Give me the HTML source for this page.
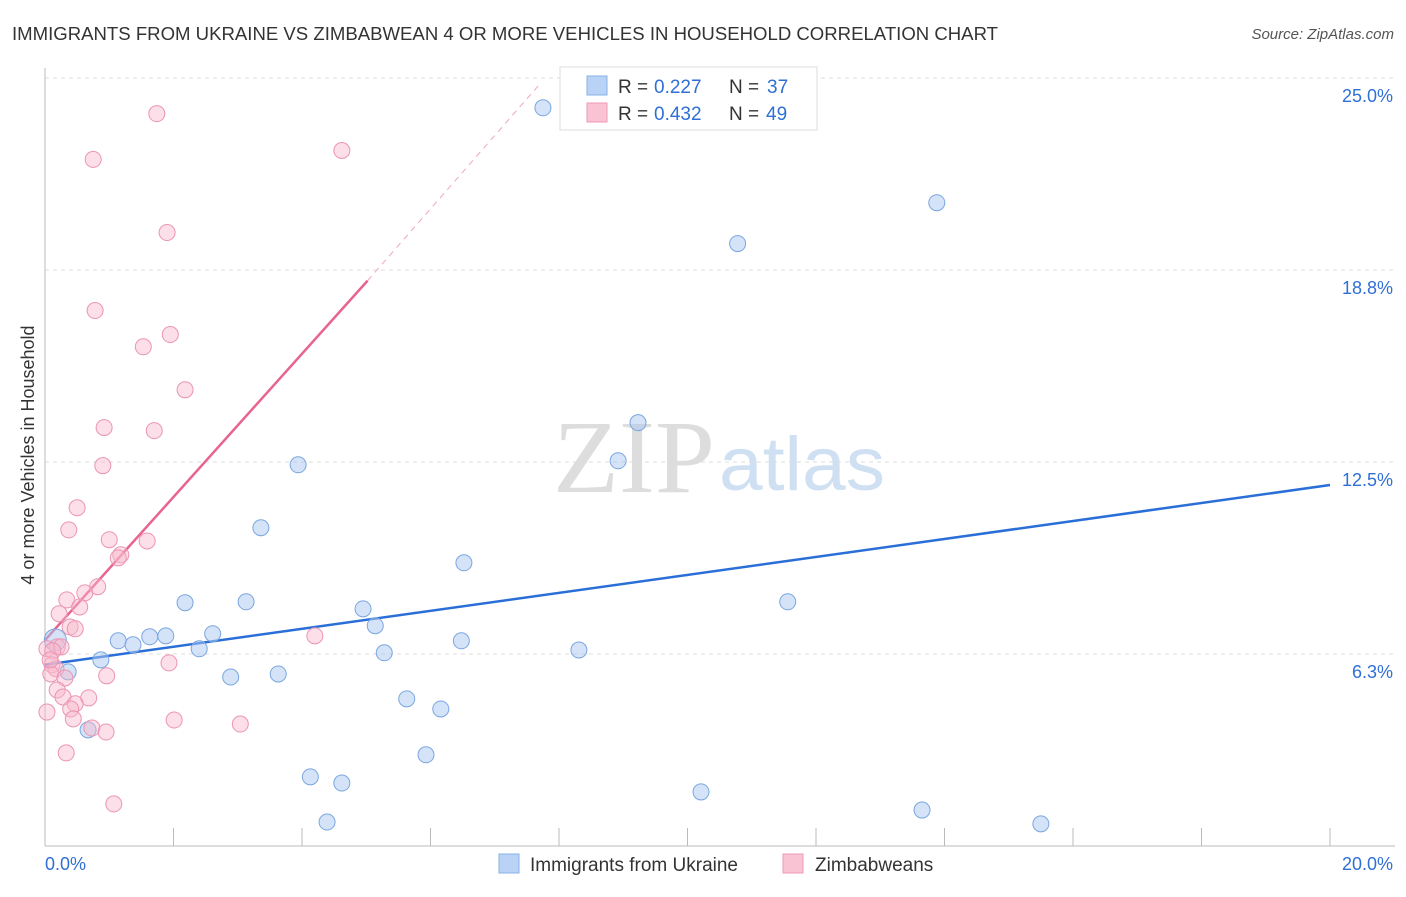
<!DOCTYPE html>
<html><head><meta charset="utf-8"><style>
body{margin:0;background:#fff;font-family:"Liberation Sans",sans-serif;}
</style></head><body>
<svg id="c" width="1406" height="892" xmlns="http://www.w3.org/2000/svg">
<text x="12" y="40" font-size="18" fill="#333" textLength="986" lengthAdjust="spacingAndGlyphs">IMMIGRANTS FROM UKRAINE VS ZIMBABWEAN 4 OR MORE VEHICLES IN HOUSEHOLD CORRELATION CHART</text>
<text x="1394" y="39" font-size="15" fill="#555" font-style="italic" text-anchor="end">Source: ZipAtlas.com</text>
<text x="553" y="492" font-size="104" fill="#ddd" font-family="Liberation Serif,serif" textLength="162" lengthAdjust="spacingAndGlyphs">ZIP</text>
<text x="719" y="490" font-size="76" fill="#cfe0f3" textLength="166" lengthAdjust="spacingAndGlyphs">atlas</text>
<text transform="translate(34,455) rotate(-90)" font-size="18" fill="#333" text-anchor="middle">4 or more Vehicles in Household</text>
<g id="axes"></g><g id="lines"></g><g id="pts"></g>
<g>
<rect x="560" y="67" width="257" height="63" fill="#fff" stroke="#ddd"/>
<rect x="587" y="76" width="20" height="19" fill="#b8d3f5" stroke="#8ab2e6"/>
<rect x="587" y="103" width="20" height="19" fill="#f9c3d3" stroke="#ee9ab5"/>
<text x="618" y="93" font-size="19" fill="#333">R =</text><text x="654" y="93" font-size="19" fill="#2f6fd6">0.227</text>
<text x="729" y="93" font-size="19" fill="#333">N =</text><text x="767" y="93" font-size="19" fill="#2f6fd6">37</text>
<text x="618" y="120" font-size="19" fill="#333">R =</text><text x="654" y="120" font-size="19" fill="#2f6fd6">0.432</text>
<text x="729" y="120" font-size="19" fill="#333">N =</text><text x="766" y="120" font-size="19" fill="#2f6fd6">49</text>
</g>
<g>
<rect x="499" y="854" width="20" height="19" fill="#b8d3f5" stroke="#8ab2e6"/>
<text x="530" y="871" font-size="19" fill="#333">Immigrants from Ukraine</text>
<rect x="783" y="854" width="20" height="19" fill="#f9c3d3" stroke="#ee9ab5"/>
<text x="815" y="871" font-size="19" fill="#333">Zimbabweans</text>
</g>
</svg>
<script>
const yTicks=[6.25,12.5,18.75,25];
const yTickLabels=["6.3%","12.5%","18.8%","25.0%"];
const blueX=[7.75,13.88,10.78,9.23,8.92,3.94,3.36,6.52,2.18,3.13,11.56,4.95,5.14,6.48,1.14,1.63,1.88,1.37,2.61,2.40,5.28,8.31,0.16,0.87,0.36,2.89,3.63,5.63,6.16,0.67,5.93,4.13,4.62,10.21,13.65,15.50,4.39];
const blueY=[24.03,20.94,19.61,13.78,12.54,12.41,10.36,9.22,7.92,7.95,7.95,7.72,7.17,6.68,6.68,6.81,6.84,6.55,6.91,6.42,6.29,6.38,6.71,6.06,5.67,5.50,5.60,4.79,4.46,3.78,2.97,2.25,2.05,1.76,1.17,0.72,0.78];
const pinkX=[1.74,4.62,0.75,1.90,0.78,1.95,1.53,2.18,0.92,1.70,0.90,0.50,0.37,1.00,1.59,1.18,1.14,0.82,0.62,0.34,0.54,0.22,0.39,0.47,0.19,0.25,0.03,0.12,4.20,1.93,0.11,0.17,0.09,0.96,0.31,0.19,0.28,0.68,0.47,0.40,0.03,0.44,2.01,3.04,0.73,0.95,0.33,1.07,0.08];
const pinkY=[23.84,22.64,22.35,19.97,17.43,16.65,16.25,14.85,13.62,13.52,12.38,11.01,10.29,9.97,9.93,9.48,9.38,8.44,8.24,8.01,7.78,7.56,7.13,7.07,6.48,6.48,6.42,6.35,6.84,5.96,5.90,5.77,5.60,5.54,5.47,5.08,4.85,4.82,4.63,4.46,4.36,4.14,4.10,3.97,3.84,3.71,3.03,1.37,6.06];
const blueLine=[[0,5.9],[20,11.75]];
const pinkLine=[[0,6.7],[5.02,18.4]];
const pinkDash=[[5.02,18.4],[7.7,24.8]];
const X=v=>45+v/20*1285, Y=v=>846-v*30.72;
const NS="http://www.w3.org/2000/svg";
function mk(t,a,p){const e=document.createElementNS(NS,t);for(const k in a)e.setAttribute(k,a[k]);p.appendChild(e);return e;}
const ax=document.getElementById('axes');
yTicks.forEach((t,i)=>{
 const g=mk('line',{x1:45,x2:1395,y1:Y(t),y2:Y(t),stroke:'#ddd','stroke-dasharray':'4,4'},ax);
 
 
 const l=mk('text',{x:1393,y:Y(t)+24,'font-size':18,fill:'#2f6fd6','text-anchor':'end'},ax);l.textContent=yTickLabels[i];
 
 
});
mk('line',{x1:45,x2:45,y1:68,y2:846,stroke:'#bbb'},ax);
mk('line',{x1:45,x2:1395,y1:846,y2:846,stroke:'#bbb'},ax);
for(let i=1;i<=10;i++){mk('line',{x1:X(i*2),x2:X(i*2),y1:828,y2:846,stroke:'#bbb'},ax);}
const xl0=mk('text',{x:45,y:870,'font-size':18,fill:'#2f6fd6'},ax);xl0.textContent='0.0%';


const xl1=mk('text',{x:1393,y:870,'font-size':18,fill:'#2f6fd6','text-anchor':'end'},ax);xl1.textContent='20.0%';


const pg=document.getElementById('pts');
blueX.forEach((x,i)=>{const c=mk('circle',{cx:X(x),cy:Y(blueY[i]),r:i==22?11:8,fill:'rgba(170,200,240,0.5)',stroke:'#7aa6e0','stroke-width':1},pg);
 
 });
pinkX.forEach((x,i)=>{const c=mk('circle',{cx:X(x),cy:Y(pinkY[i]),r:8,fill:'rgba(248,185,205,0.45)',stroke:'#eb95b2','stroke-width':1},pg);
 
 });
const lg=document.getElementById('lines');
const bl=mk('line',{x1:X(blueLine[0][0]),y1:Y(blueLine[0][1]),x2:X(blueLine[1][0]),y2:Y(blueLine[1][1]),stroke:'#2a6fd8','stroke-width':2.5},lg);


const pl=mk('line',{x1:X(pinkLine[0][0]),y1:Y(pinkLine[0][1]),x2:X(pinkLine[1][0]),y2:Y(pinkLine[1][1]),stroke:'#e8648f','stroke-width':2.5},lg);


const pd=mk('line',{x1:X(pinkDash[0][0]),y1:Y(pinkDash[0][1]),x2:X(pinkDash[1][0]),y2:Y(pinkDash[1][1]),stroke:'#eea6bd','stroke-width':1,'stroke-dasharray':'6,5'},lg);


</script>
</body></html>
